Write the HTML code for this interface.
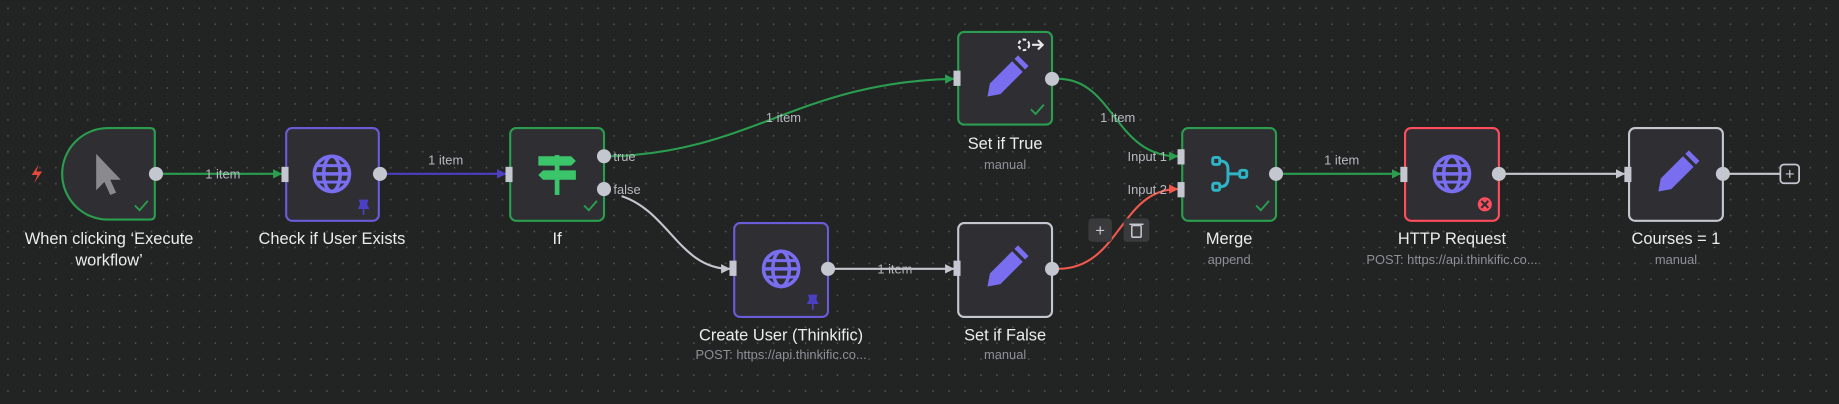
<!DOCTYPE html>
<html><head><meta charset="utf-8"><style>
html,body{margin:0;padding:0;background:#222323;}
svg{display:block;}
text{font-family:"Liberation Sans",sans-serif;}
</style></head><body>
<svg width="1839" height="404" viewBox="0 0 1568 344" xmlns="http://www.w3.org/2000/svg">
<defs>
<pattern id="dots" width="13.6" height="13.6" patternUnits="userSpaceOnUse">
<circle cx="6.8" cy="6.8" r="0.7" fill="#5a5a5a"/>
</pattern>
<marker id="ag" viewBox="0 0 10 10" refX="9" refY="5" markerWidth="8" markerHeight="9" markerUnits="userSpaceOnUse" orient="auto"><path d="M0,0 L10,5 L0,10z" fill="#2a9d4e"/></marker>
<marker id="ap" viewBox="0 0 10 10" refX="9" refY="5" markerWidth="8" markerHeight="9" markerUnits="userSpaceOnUse" orient="auto"><path d="M0,0 L10,5 L0,10z" fill="#4d3fc4"/></marker>
<marker id="aw" viewBox="0 0 10 10" refX="9" refY="5" markerWidth="8" markerHeight="9" markerUnits="userSpaceOnUse" orient="auto"><path d="M0,0 L10,5 L0,10z" fill="#c4c7cf"/></marker>
<marker id="ar" viewBox="0 0 10 10" refX="9" refY="5" markerWidth="8" markerHeight="9" markerUnits="userSpaceOnUse" orient="auto"><path d="M0,0 L10,5 L0,10z" fill="#f0594c"/></marker>
<g id="globe"><circle r="15" fill="none" stroke="#7a6ef0" stroke-width="3"/><ellipse rx="7" ry="15" fill="none" stroke="#7a6ef0" stroke-width="3"/><line x1="-15" y1="0" x2="15" y2="0" stroke="#7a6ef0" stroke-width="3"/><line x1="-13" y1="-7" x2="13" y2="-7" stroke="#7a6ef0" stroke-width="2.5"/><line x1="-13" y1="7" x2="13" y2="7" stroke="#7a6ef0" stroke-width="2.5"/></g>
<g id="pencil"><path d="M-15,15 L-13,4 L6,-15 L15,-6 L-4,13 Z" fill="#7a6ef0"/><path d="M8,-17 L11,-20 L20,-11 L17,-8 Z" fill="#7a6ef0"/></g>
<g id="check"><path d="M-5,0 L-1,4 L6,-4" fill="none" stroke="#2a9d4e" stroke-width="1.6"/></g>
</defs>
<rect width="1568" height="344" fill="#222323"/>
<rect width="1568" height="344" fill="url(#dots)"/>

<!-- edges -->
<g fill="none" stroke-width="1.8">
<path d="M138,148 L240,148" stroke="#2a9d4e" marker-end="url(#ag)"/>
<path d="M329,148 L431,148" stroke="#4d3fc4" marker-end="url(#ap)"/>
<path d="M520,133 C640,130 680,70 813,67" stroke="#2a9d4e" marker-end="url(#ag)"/>
<path d="M530,167 C570,180 580,229 622,229" stroke="#c4c7cf" marker-end="url(#aw)"/>
<path d="M711,229 L813,229" stroke="#c4c7cf" marker-end="url(#aw)"/>
<path d="M902,67 C950,67 950,133 1004,133" stroke="#2a9d4e" marker-end="url(#ag)"/>
<path d="M902,229 C955,229 955,161 1004,161" stroke="#f0594c" marker-end="url(#ar)"/>
<path d="M1093,148 L1194,148" stroke="#2a9d4e" marker-end="url(#ag)"/>
<path d="M1283,148 L1385,148" stroke="#c4c7cf" marker-end="url(#aw)"/>
<path d="M1474,148 L1518,148" stroke="#c4c7cf"/>
</g>
<g font-size="11" fill="#b8bac0" text-anchor="middle">
<text x="190" y="152">1 item</text>
<text x="380" y="140">1 item</text>
<text x="668" y="104">1 item</text>
<text x="763" y="233">1 item</text>
<text x="953" y="104">1 item</text>
<text x="1144" y="140">1 item</text>
<text x="523" y="137" text-anchor="start">true</text>
<text x="523" y="165" text-anchor="start">false</text>
<text x="995" y="137" text-anchor="end">Input 1</text>
<text x="995" y="165" text-anchor="end">Input 2</text>
</g>

<!-- nodes -->
<g stroke-width="1.8" fill="#2f2f33">
<path d="M92,109 L128,109 Q132,109 132,113 L132,183 Q132,187 128,187 L92,187 A39,39 0 0 1 53,148 A39,39 0 0 1 92,109 Z" stroke="#2a9d4e"/>
<rect x="244" y="109" width="79" height="79" rx="5" stroke="#6a5bd6"/>
<rect x="435" y="109" width="80" height="79" rx="5" stroke="#2a9d4e"/>
<rect x="817" y="27" width="80" height="79" rx="5" stroke="#2a9d4e"/>
<rect x="626" y="190" width="80" height="80" rx="5" stroke="#6a5bd6"/>
<rect x="817" y="190" width="80" height="80" rx="5" stroke="#c4c7cf"/>
<rect x="1008" y="109" width="80" height="79" rx="5" stroke="#2a9d4e"/>
<rect x="1198" y="109" width="80" height="79" rx="5" stroke="#ff4d5e"/>
<rect x="1389" y="109" width="80" height="79" rx="5" stroke="#c4c7cf"/>
</g>

<!-- handles -->
<g fill="#c4c7cf">
<circle cx="133" cy="148" r="6"/><circle cx="324" cy="148" r="6"/>
<circle cx="515" cy="133" r="6"/><circle cx="515" cy="161" r="6"/>
<circle cx="897" cy="67" r="6"/><circle cx="706" cy="229" r="6"/><circle cx="897" cy="229" r="6"/>
<circle cx="1088" cy="148" r="6"/><circle cx="1278" cy="148" r="6"/><circle cx="1469" cy="148" r="6"/>
<rect x="240" y="142" width="6" height="13"/><rect x="431" y="142" width="6" height="13"/>
<rect x="813" y="60" width="6" height="13"/><rect x="622" y="222" width="6" height="13"/>
<rect x="813" y="222" width="6" height="13"/><rect x="1004" y="127" width="6" height="13"/>
<rect x="1004" y="155" width="6" height="13"/><rect x="1194" y="142" width="6" height="13"/>
<rect x="1385" y="142" width="6" height="13"/>
</g>
<rect x="1518" y="140" width="16" height="16" rx="3" fill="#222323" stroke="#c4c7cf" stroke-width="1.5"/>
<text x="1526" y="153" font-size="14" fill="#c4c7cf" text-anchor="middle">+</text>

<!-- icons -->
<path d="M33,140 L27,149 L32,149 L29,156 L36,146 L31,146 Z" fill="#e5483f"/>
<path d="M82,131 L82,162 L89,155 L94,166 L99,164 L94,153 L103,153 Z" fill="#8a8a8e"/>
<use href="#globe" x="283" y="148"/>
<use href="#globe" x="666" y="229"/>
<use href="#globe" x="1238" y="148"/>
<use href="#pencil" x="857" y="67"/>
<use href="#pencil" x="857" y="229"/>
<use href="#pencil" x="1429" y="148"/>
<g fill="#3bc56b">
<rect x="473" y="132" width="4" height="34"/>
<path d="M459,133 L487,133 L491,137 L487,141 L459,141 Z"/>
<path d="M463,145 L491,145 L491,153 L463,153 L459,149 Z"/>
</g>
<g fill="none" stroke="#2fb4c6" stroke-width="2.5">
<rect x="1034" y="134" width="6" height="6" rx="1.5"/><rect x="1034" y="156" width="6" height="6" rx="1.5"/><rect x="1057" y="145" width="6" height="6" rx="1.5"/>
<path d="M1040,137 Q1047,137 1047,144 L1047,152 Q1047,159 1040,159 M1047,148 L1057,148"/>
</g>
<use href="#check" x="120" y="175"/><use href="#check" x="503" y="175"/><use href="#check" x="884" y="93"/><use href="#check" x="1076" y="175"/>
<g fill="#4d3fc4"><path d="M306,170 L314,170 L313,174 L315,178 L305,178 L307,174Z"/><rect x="309.3" y="178" width="1.4" height="5"/></g>
<g fill="#4d3fc4"><path d="M689,251 L697,251 L696,255 L698,259 L688,259 L690,255Z"/><rect x="692.3" y="259" width="1.4" height="5"/></g>
<circle cx="1266" cy="174" r="6" fill="#ff4d5e"/>
<path d="M1263,171 L1269,177 M1269,171 L1263,177" stroke="#2f2f33" stroke-width="1.8"/>
<circle cx="873" cy="38" r="4.5" fill="none" stroke="#e8e8e8" stroke-width="1.8" stroke-dasharray="3 2"/>
<path d="M880,38 L889,38 M885,34 L889,38 L885,42" fill="none" stroke="#e8e8e8" stroke-width="1.8"/>
<rect x="928" y="186" width="20" height="20" rx="3" fill="#3a3a3d"/>
<text x="938" y="201" font-size="14" fill="#c4c7cf" text-anchor="middle">+</text>
<rect x="958" y="186" width="22" height="20" rx="3" fill="#3a3a3d"/>
<rect x="965" y="192" width="8" height="10" rx="1" fill="none" stroke="#c4c7cf" stroke-width="1.3"/>
<line x1="963" y1="191" x2="975" y2="191" stroke="#c4c7cf" stroke-width="1.3"/>

<!-- labels -->
<g font-size="14" fill="#ececec" text-anchor="middle">
<text x="93" y="208">When clicking ‘Execute</text>
<text x="93" y="226">workflow’</text>
<text x="283" y="208">Check if User Exists</text>
<text x="475" y="208">If</text>
<text x="857" y="127">Set if True</text>
<text x="666" y="290">Create User (Thinkific)</text>
<text x="857" y="290">Set if False</text>
<text x="1048" y="208">Merge</text>
<text x="1238" y="208">HTTP Request</text>
<text x="1429" y="208">Courses = 1</text>
</g>
<g font-size="11" fill="#8e9097" text-anchor="middle">
<text x="857" y="144">manual</text>
<text x="666" y="306">POST: https://api.thinkific.co...</text>
<text x="857" y="306">manual</text>
<text x="1048" y="225">append</text>
<text x="1238" y="225">POST: https://api.thinkific.co...</text>
<text x="1429" y="225">manual</text>
</g>
</svg>
</body></html>
